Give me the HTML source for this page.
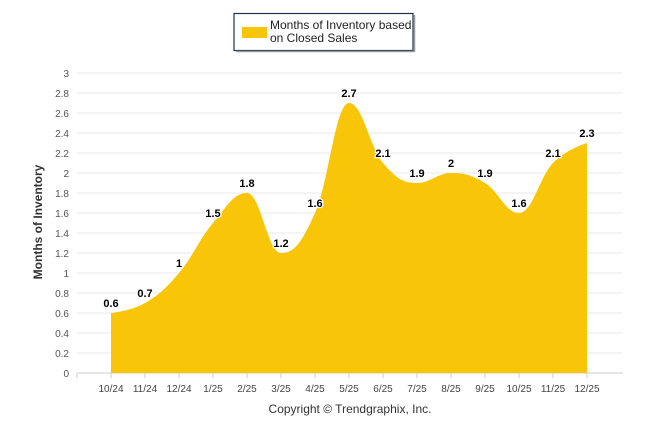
<!DOCTYPE html>
<html><head><meta charset="utf-8"><style>
body{margin:0;background:#fff;font-family:"Liberation Sans",Arial,sans-serif}
svg text{font-family:"Liberation Sans",Arial,sans-serif}
</style></head><body>
<svg id="chart" width="646" height="434" viewBox="0 0 646 434" xmlns="http://www.w3.org/2000/svg">
<rect width="646" height="434" fill="#fff"/>
<g id="grid"></g>
<g id="series"></g>
<g id="labels"></g>
<g>
<rect x="234" y="13.5" width="179" height="37" fill="#fff" stroke="#1f3050" stroke-width="1.2"/>
<line x1="236" y1="51.5" x2="414" y2="51.5" stroke="#999" stroke-width="1.5"/>
<line x1="414.5" y1="15" x2="414.5" y2="52" stroke="#999" stroke-width="1.5"/>
<rect x="242" y="27" width="25" height="11" fill="#f8c508"/>
<text x="270" y="29" font-size="12" fill="#222">Months of Inventory based</text>
<text x="270" y="42" font-size="12" fill="#222">on Closed Sales</text>
</g>
<text transform="translate(42,222) rotate(-90)" text-anchor="middle" font-size="12" font-weight="bold" fill="#333">Months of Inventory</text>
<text x="350" y="413" text-anchor="middle" font-size="12" fill="#333">Copyright © Trendgraphix, Inc.</text>
</svg>
<script>
const categories=["10/24","11/24","12/24","1/25","2/25","3/25","4/25","5/25","6/25","7/25","8/25","9/25","10/25","11/25","12/25"];
const values=[0.6,0.7,1,1.5,1.8,1.2,1.6,2.7,2.1,1.9,2,1.9,1.6,2.1,2.3];
const yTicks=[0,0.2,0.4,0.6,0.8,1,1.2,1.4,1.6,1.8,2,2.2,2.4,2.6,2.8,3];
const NS="http://www.w3.org/2000/svg";
const x0=77,step=34,y0=373,yMax=3,plotH=300;
const xs=i=>x0+step*(i+1);
const ys=v=>y0-v/yMax*plotH;
function mk(t,a,p){const e=document.createElementNS(NS,t);for(const k in a)e.setAttribute(k,a[k]);p.appendChild(e);return e;}
const grid=document.getElementById('grid');
yTicks.forEach(v=>{
  const l=mk('line',{x1:x0,x2:623,y1:ys(v),y2:ys(v),stroke:v===0?'#ccc':'#e8e8e8'},grid);
  
  
  const t=mk('text',{x:69,y:ys(v)+4,'text-anchor':'end','font-size':'10',fill:'#555'},grid);
  t.textContent=v;
  
  
});
for(let i=0;i<=categories.length;i++){
  mk('line',{x1:x0+step*i,x2:x0+step*i,y1:y0,y2:y0+5,stroke:'#ccc'},grid);
}
categories.forEach((c,i)=>{
  const t=mk('text',{x:xs(i),y:y0+19,'text-anchor':'middle','font-size':'10',fill:'#444'},grid);
  t.textContent=c;
  
  
});
// Highcharts-style spline
const pts=values.map((v,i)=>[xs(i),ys(v)]);
let d=`M${pts[0][0]},${pts[0][1]}`;
const sm=1.5,den=sm+1;
function ctrl(i){
  const p=pts[i],a=pts[i-1],b=pts[i+1];
  let lx=(sm*p[0]+a[0])/den,ly=(sm*p[1]+a[1])/den,rx=(sm*p[0]+b[0])/den,ry=(sm*p[1]+b[1])/den;
  const cor=((ry-ly)*(rx-p[0]))/(rx-lx)+p[1]-ry;
  ly+=cor;ry+=cor;
  if(ly>a[1]&&ly>p[1]){ly=Math.max(a[1],p[1]);ry=2*p[1]-ly;}else if(ly<a[1]&&ly<p[1]){ly=Math.min(a[1],p[1]);ry=2*p[1]-ly;}
  if(ry>b[1]&&ry>p[1]){ry=Math.max(b[1],p[1]);ly=2*p[1]-ry;}else if(ry<b[1]&&ry<p[1]){ry=Math.min(b[1],p[1]);ly=2*p[1]-ry;}
  return {l:[lx,ly],r:[rx,ry]};
}
const cs=pts.map((p,i)=>(i>0&&i<pts.length-1)?ctrl(i):{l:p,r:p});
for(let i=1;i<pts.length;i++){
  const c1=cs[i-1].r,c2=cs[i].l,p=pts[i];
  d+=` C${c1[0]},${c1[1]} ${c2[0]},${c2[1]} ${p[0]},${p[1]}`;
}
const area=mk('path',{d:d+` L${pts[pts.length-1][0]},${y0} L${pts[0][0]},${y0} Z`,fill:'#f8c508'},document.getElementById('series'));


const lab=document.getElementById('labels');
values.forEach((v,i)=>{
  const t=mk('text',{x:xs(i),y:ys(v)-6,'text-anchor':'middle','font-size':'11','font-weight':'bold',fill:'#000',stroke:'#fff','stroke-width':'2.5','paint-order':'stroke'},lab);
  t.textContent=v;
  
  
});
</script>
</body></html>
